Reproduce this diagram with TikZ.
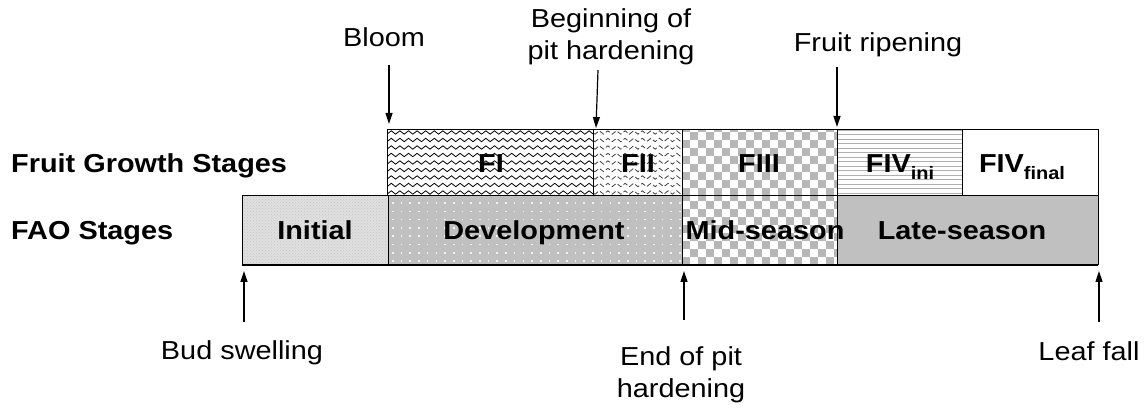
\documentclass[tikz,border=0pt]{standalone}
\usepackage{fontspec}
\setmainfont[FakeStretch=1.11]{Liberation Sans}
\usetikzlibrary{decorations.pathmorphing, patterns, arrows.meta}

\definecolor{cellgray}{RGB}{192,192,192}
\definecolor{chkgray}{RGB}{182,182,182}
\definecolor{linegray}{RGB}{175,175,175}
\definecolor{initgray}{RGB}{224,224,224}

\begin{document}
\begin{tikzpicture}[x=1pt,y=1pt,
  lbl/.style={font=\fontsize{26}{32}\selectfont, align=center, inner sep=0pt},
  stagelbl/.style={font=\fontsize{26}{32}\selectfont\bfseries, inner sep=0pt, anchor=base},
  rowlbl/.style={font=\fontsize{26}{32}\selectfont\bfseries, inner sep=0pt, anchor=base west},
  cell/.style={rectangle, inner sep=0pt, outer sep=0pt, anchor=south west},
  border/.style={draw=black, line width=1pt},
  arr/.style={-{Triangle[length=11pt,width=7pt]}, line width=1.2pt},
  wave/.style={line width=0.8pt, decorate,
    decoration={snake, amplitude=1.7pt, segment length=8.6pt}},
]
\useasboundingbox (0,0) rectangle (1148,414);

% ---------- cells: fruit growth stages (top row) ----------
\node[cell, minimum width=206, minimum height=66] (fi)   at (387,218) {};
\node[cell, minimum width=89,  minimum height=66] (fii)  at (593,218) {};
\node[cell, minimum width=155, minimum height=66] (fiii) at (682,218) {};
\node[cell, minimum width=125, minimum height=66] (fivi) at (837,218) {};
\node[cell, minimum width=136, minimum height=66] (fivf) at (962,218) {};

% ---------- cells: FAO stages (bottom row) ----------
\node[cell, minimum width=146, minimum height=69] (init) at (242,149) {};
\node[cell, minimum width=294, minimum height=69] (dev)  at (388,149) {};
\node[cell, minimum width=155, minimum height=69] (mid)  at (682,149) {};
\node[cell, minimum width=261, minimum height=69] (late) at (837,149) {};

% FI: wavy lines
\begin{scope}
  \clip (fi.south west) rectangle (fi.north east);
  \foreach \y in {221.5,229,...,284}
    \draw[wave] (380,\y) -- (600,\y);
\end{scope}

% FII: broken wavy lines
\begin{scope}
  \clip (fii.south west) rectangle (fii.north east);
  \foreach \y in {221.5,229,...,284}
    \draw[wave, black!75, dash pattern=on 5pt off 2.5pt] (588,\y) -- (690,\y);
\end{scope}

% FIII: checkerboard
\begin{scope}
  \clip (fiii.south west) rectangle (fiii.north east);
  \foreach \j in {0,...,8} {
    \pgfmathtruncatemacro\off{mod(\j,2)}
    \foreach \i in {0,2,...,20}
      \fill[chkgray] ({682+(\i+\off)*8}, {218+\j*8}) rectangle ++(8,8);
  }
\end{scope}

% FIV ini: horizontal lines
\begin{scope}
  \clip (fivi.south west) rectangle (fivi.north east);
  \foreach \y in {220.5,225,...,284}
    \draw[linegray, line width=1pt] (837,\y) -- (962,\y);
\end{scope}

% Initial: fine dotted grey
\fill[initgray] (init.south west) rectangle (init.north east);
\fill[pattern=crosshatch dots, pattern color=gray!45] (init.south west) rectangle (init.north east);

% Development: grey with white dots
\fill[cellgray] (dev.south west) rectangle (dev.north east);
\begin{scope}
  \clip (dev.south west) rectangle (dev.north east);
  \foreach \i in {0,...,33}
    \foreach \j in {0,...,8}
      \fill[white!80!cellgray] ({392+\i*8.7}, {152+\j*8.3}) rectangle ++(1.6,1.6);
\end{scope}

% Mid-season: checkerboard
\begin{scope}
  \clip (mid.south west) rectangle (mid.north east);
  \foreach \j in {0,...,8} {
    \pgfmathtruncatemacro\off{mod(\j,2)}
    \foreach \i in {0,2,...,20}
      \fill[chkgray] ({682+(\i+\off)*8}, {149+\j*8}) rectangle ++(8,8);
  }
\end{scope}

% Late-season: plain grey
\fill[cellgray] (late.south west) rectangle (late.north east);

% ---------- borders ----------
\foreach \c in {fi,fii,fiii,fivi,fivf,init,dev,mid,late}
  \draw[border] (\c.south west) rectangle (\c.north east);
\draw[line width=1.6pt] (init.south west) -- (late.south east);

% ---------- stage labels ----------
\node[stagelbl] (lfi)   at (491,241) {FI};
\node[stagelbl] (lfii)  at (638,241) {FII};
\node[stagelbl] (lfiii) at (759,241) {FIII};
\node[stagelbl] (lfivi) at (900,241) {FIV\raisebox{-7pt}{\fontsize{18}{20}\selectfont\bfseries ini}};
\node[stagelbl] (lfivf) at (1022,241) {FIV\raisebox{-7pt}{\fontsize{18}{20}\selectfont\bfseries final}};

\node[stagelbl] (linit) at (315,174) {Initial};
\node[stagelbl] (ldev)  at (534,174) {Development};
\node[stagelbl] (lmid)  at (765,174) {Mid-season};
\node[stagelbl] (llate) at (962,174) {Late-season};

\node[rowlbl] (rowfruit) at (11,241) {Fruit Growth Stages};
\node[rowlbl] (rowfao)   at (11,174) {FAO Stages};

% ---------- event labels and arrows ----------
% (anchor=base sits on the last line of a two-line label)
\node[lbl, anchor=base] (bloom)  at (384,367) {Bloom};
\node[lbl, anchor=base] (pitbeg) at (611,354) {Beginning of\\pit hardening};
\node[lbl, anchor=base] (ripen)  at (878,362) {Fruit ripening};
\node[lbl, anchor=base] (bud)    at (242,54) {Bud swelling};
\node[lbl, anchor=base] (pitend) at (681,16) {End of pit\\hardening};
\node[lbl, anchor=base] (leaf)   at (1089,53) {Leaf fall};

\coordinate (bloomT)  at (389,349);
\coordinate (bloomH)  at (389,290);
\coordinate (pitbegT) at (598,344);
\coordinate (pitbegH) at (596,286);
\coordinate (ripenT)  at (837,347);
\coordinate (ripenH)  at (837,287);
\coordinate (budT)    at (244,92);
\coordinate (budH)    at (244,143);
\coordinate (pitendT) at (684,94);
\coordinate (pitendH) at (684,143);
\coordinate (leafT)   at (1099,92);
\coordinate (leafH)   at (1099,143);

\draw[arr] (bloomT)  -- (bloomH);
\draw[arr] (pitbegT) -- (pitbegH);
\draw[arr] (ripenT)  -- (ripenH);
\draw[arr] (budT)    -- (budH);
\draw[arr] (pitendT) -- (pitendH);
\draw[arr] (leafT)   -- (leafH);
\end{tikzpicture}
\end{document}
